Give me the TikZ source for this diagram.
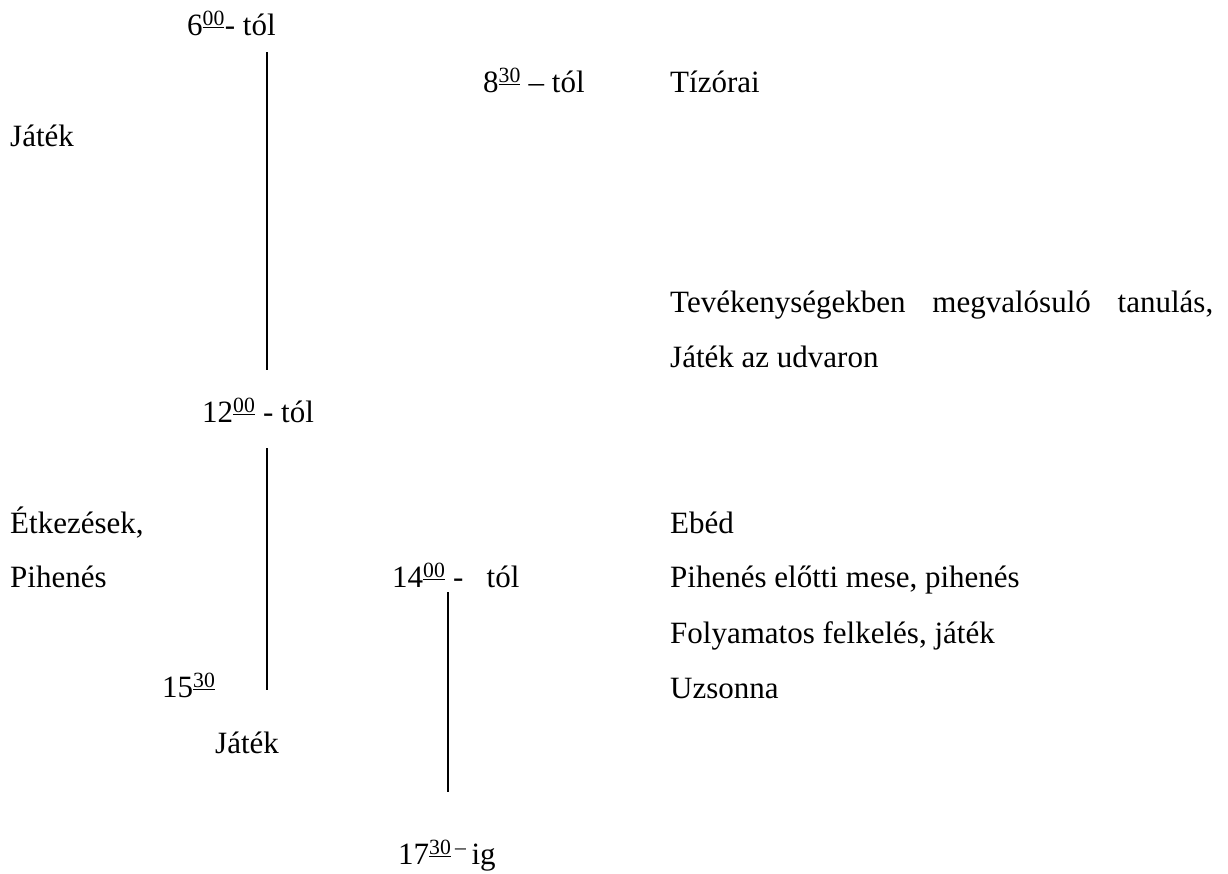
\documentclass[tikz,border=0pt]{standalone}
\usepackage{fontspec}
\setmainfont{Liberation Serif}
\usetikzlibrary{positioning}
\newcommand{\hrs}[1]{\textsuperscript{\underline{#1}}}

\begin{document}
\begin{tikzpicture}[x=1pt, y=-1pt,
  txt/.style={anchor=base west, inner sep=0pt, font=\fontsize{31}{37}\selectfont},
  bar/.style={line width=1.6pt}
]
\useasboundingbox (0,0) rectangle (1228,873);

\node[txt] (t6) at (187,35) {6\hrs{00}- tól};
\node[txt] (t8) at (483,92) {8\hrs{30} – tól};
\node[txt] (t12) at (202,422) {12\hrs{00} - tól};
\node[txt] (t14) at (392,587) {14\hrs{00} -\ \ \ tól};
\node[txt] (t15) at (162,697) {15\hrs{30}};
\node[txt] (t17) at (398,864) {17\hrs{30}\textsuperscript{\,–}\,ig};

\node[txt] (jatek1) at (10,146) {Játék};
\node[txt] (etk) at (10,533) {Étkezések,};
\node[txt] (pih) at (10,587) {Pihenés};
\node[txt] (jatek2) at (215,753) {Játék};

\node[txt] (tizorai) at (670,92) {Tízórai};
\node[txt] (tanulas) at (670,312) {\makebox[543pt][s]{Tevékenységekben megvalósuló tanulás,}};
\node[txt] (udvar) at (670,367) {Játék az udvaron};
\node[txt] (ebed) at (670,533) {Ebéd};
\node[txt] (mese) at (670,587) {Pihenés előtti mese, pihenés};
\node[txt] (felkel) at (670,643) {Folyamatos felkelés, játék};
\node[txt] (uzs) at (670,698) {Uzsonna};

\coordinate (a1) at (267,52);
\coordinate (a2) at (267,370);
\coordinate (b1) at (267,448);
\coordinate (b2) at (267,690);
\coordinate (c1) at (448,592);
\coordinate (c2) at (448,792);

\draw[bar] (a1) -- (a2);
\draw[bar] (b1) -- (b2);
\draw[bar] (c1) -- (c2);
\end{tikzpicture}
\end{document}
